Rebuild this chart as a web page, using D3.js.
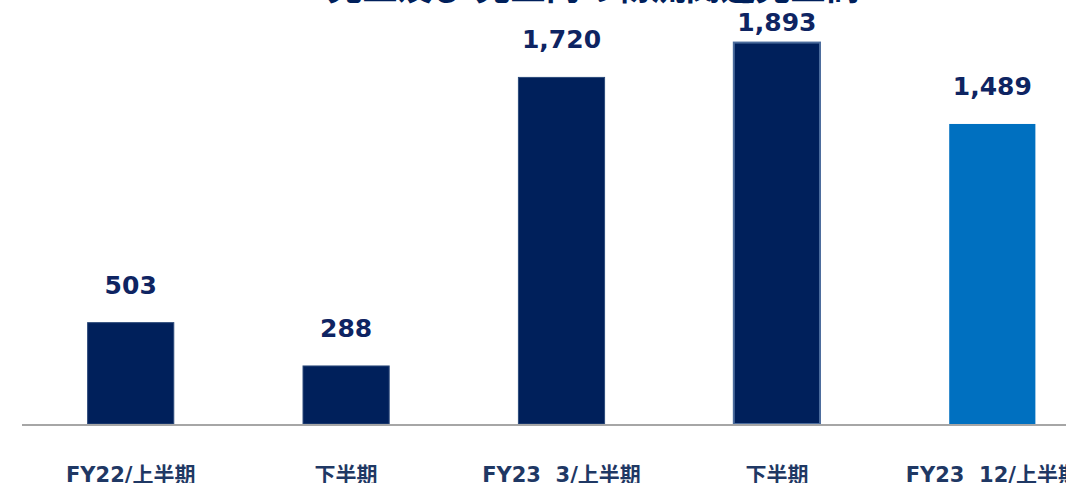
<!DOCTYPE html>
<html>
<head>
<meta charset="utf-8">
<script src="https://cdn.jsdelivr.net/npm/d3@7"></script>
<style>
  body { margin: 0; background: #fff; overflow: hidden; }
  svg { display: block; }
</style>
</head>
<body>
<div id="chart"></div>
<script>
// chart data
const categories = ["FY22/上半期", "下半期", "FY23\u00a0\u00a03/上半期", "下半期", "FY23\u00a0\u00a012/上半期"];
const values = [503, 288, 1720, 1893, 1489];
const barColors = ["#00205b", "#00205b", "#00205b", "#00205b", "#0070c0"];
const titleText = "売上及び 売上内の物流関連売上高";

const width = 1066, height = 483;

const svg = d3.select("#chart")
    .append("svg")
    .attr("width", width)
    .attr("height", height);

const x = d3.scaleBand()
    .domain(d3.range(categories.length))
    .range([23, 1100])
    .paddingInner(0.6)
    .paddingOuter(0.3);

const y = d3.scaleLinear()
    .domain([0, 2000])
    .range([424, 21]);

// title (cut off by the top edge)
svg.append("text")
    .attr("x", 594)
    .attr("y", 0)
    .attr("text-anchor", "middle")
    .attr("fill", "#00205b")
    .style("font-family", "'Noto Sans CJK JP', sans-serif")
    .style("font-weight", "bold")
    .style("font-size", "35px")
    .text(titleText);

// bars
svg.selectAll(".bar")
    .data(values)
    .enter().append("rect")
    .attr("class", "bar")
    .attr("x", (d, i) => x(i))
    .attr("y", d => y(d))
    .attr("width", x.bandwidth())
    .attr("height", d => y(0) - y(d))
    .attr("fill", (d, i) => barColors[i])
    .attr("stroke", (d, i) => i === 3 ? "#4a6b9c" : (i < 3 ? "#2c4a7a" : "none"))
    .attr("stroke-width", (d, i) => i === 3 ? 2 : 1);

// baseline
svg.append("line")
    .attr("x1", 22)
    .attr("x2", width)
    .attr("y1", y(0) + 1)
    .attr("y2", y(0) + 1)
    .attr("stroke", "#a6a6a6")
    .attr("stroke-width", 2);

// value labels (the tallest one is pushed down so it stays below the title)
svg.selectAll(".val")
    .data(values)
    .enter().append("text")
    .attr("class", "val")
    .attr("x", (d, i) => x(i) + x.bandwidth() / 2)
    .attr("y", d => Math.max(y(d) - 29, 31))
    .attr("text-anchor", "middle")
    .attr("fill", "#0e2462")
    .style("font-family", "'DejaVu Sans', Verdana, sans-serif")
    .style("font-weight", "bold")
    .style("font-size", "25px")
    .text(d => d3.format(",")(d));

// category labels
svg.selectAll(".cat")
    .data(categories)
    .enter().append("text")
    .attr("class", "cat")
    .attr("x", (d, i) => x(i) + x.bandwidth() / 2)
    .attr("y", 482)
    .attr("text-anchor", "middle")
    .attr("fill", "#1f3864")
    .style("font-family", "'DejaVu Sans', 'Noto Sans CJK JP', sans-serif")
    .style("font-weight", "bold")
    .style("font-size", "21px")
    .text(d => d);
</script>
</body>
</html>
